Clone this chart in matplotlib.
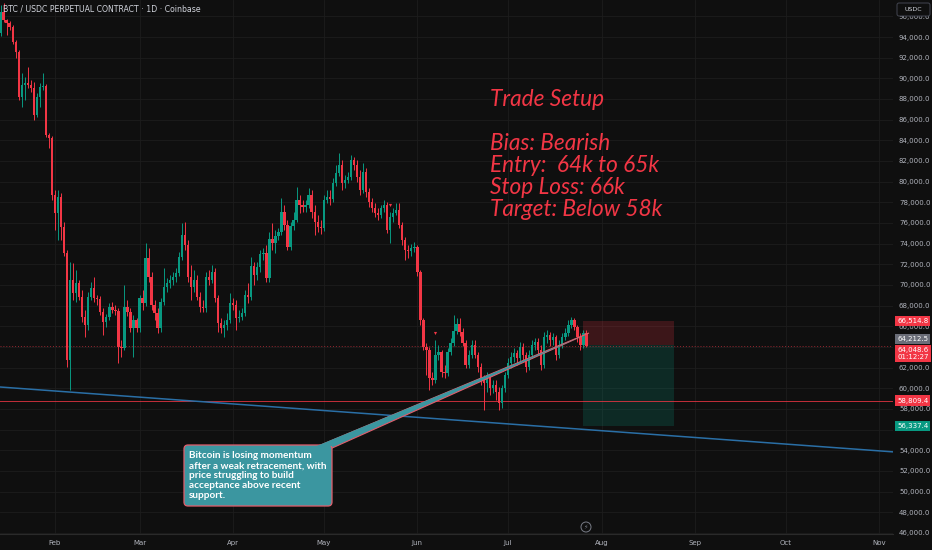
import numpy as np
import matplotlib
matplotlib.use('Agg')
import matplotlib.pyplot as plt
import matplotlib.transforms as mtransforms
from matplotlib.patches import FancyBboxPatch, Polygon, Rectangle, Circle

W, H = 932, 550
BG = '#0f0f0f'
UP = '#089981'
DOWN = '#f23645'
GRID = '#1d1d1d'
TXT = '#b2b5be'

# daily candles, prices in thousands USDC, day 0 = Feb 1
first_day = -18
first_open = 94.39
closes = [
    96.42, 95.65, 95.36, 94.97, 93.52, 92.55, 88.19, 89.35, 89.55, 89.35,
    89.06, 86.45, 88.19, 89.16, 89.26, 84.51, 84.22, 78.70,
    76.96, 78.51, 75.61, 73.09, 62.73, 70.48, 69.22, 70.19, 68.83, 66.89,
    66.12, 68.83, 69.70, 68.73, 68.64, 67.38, 66.41, 66.89, 67.86, 67.57,
    67.48, 63.99, 63.89, 67.86, 67.38, 65.83, 66.60, 65.83, 68.73, 68.25,
    72.61, 70.77, 68.06, 67.28, 65.83, 68.35, 69.80, 70.19, 70.48, 70.77,
    71.15, 72.70, 74.83, 73.87, 70.77, 69.80, 70.48, 68.83, 67.86, 67.77,
    70.77, 70.48, 71.25, 68.73, 66.31, 65.83, 66.12, 66.60, 68.25, 68.06,
    66.80, 66.89, 67.28, 69.03, 68.83, 71.83, 70.96, 71.74, 73.00, 73.09,
    70.67, 74.45, 74.06, 74.74, 75.12, 77.06, 75.80, 73.67, 75.70, 76.29,
    78.22, 77.74, 77.54, 77.74, 78.70, 77.06, 76.09, 75.61, 75.51, 78.22,
    78.51, 78.32, 79.87, 80.83, 81.61, 79.87, 80.16, 80.45, 82.09, 81.61,
    80.45, 79.19, 80.93, 78.99, 78.03, 77.45, 76.96, 76.77, 77.45, 77.74,
    75.32, 76.58, 76.96, 77.25, 75.80, 74.35, 73.38, 73.29, 73.57, 73.67,
    71.25, 66.60, 63.99, 63.70, 60.99, 60.80, 63.22, 63.51, 61.57, 61.47,
    63.51, 64.38, 65.54, 66.22, 65.44, 64.38, 62.25, 63.22, 64.19, 63.22,
    62.05, 60.80, 60.51, 60.99, 60.02, 60.31, 59.64, 58.57, 60.02, 61.28,
    62.44, 63.02, 63.41, 62.93, 63.99, 63.22, 62.05, 63.22, 64.19, 64.48,
    63.70, 62.25, 64.96, 65.15, 64.67, 64.96, 63.22, 64.19, 64.96, 65.35,
    66.12, 66.60, 65.93, 64.96, 64.19, 65.35, 64.05,
]
highs = [
    97.10, 97.29, 95.74, 95.55, 95.16, 93.71, 92.74, 90.51, 90.13, 91.09,
    89.84, 89.64, 88.58, 89.55, 90.51, 89.45, 84.71, 84.41,
    79.19, 79.19, 78.90, 76.09, 73.38, 72.22, 72.12, 71.45, 70.48, 69.51,
    67.57, 69.32, 70.29, 70.77, 69.03, 68.93, 67.77, 67.19, 68.25, 68.35,
    68.06, 67.77, 64.67, 69.99, 68.54, 67.77, 67.09, 66.80, 69.03, 69.51,
    74.06, 73.57, 71.25, 68.54, 67.77, 68.73, 71.64, 70.67, 70.96, 71.25,
    71.64, 73.19, 75.99, 76.09, 74.35, 71.93, 71.45, 70.96, 69.32, 68.54,
    71.25, 71.45, 71.93, 71.64, 69.03, 66.80, 66.60, 67.28, 69.22, 68.73,
    68.54, 67.57, 67.77, 69.51, 70.19, 72.70, 72.22, 72.22, 73.38, 73.57,
    73.87, 75.12, 75.99, 75.32, 75.51, 78.41, 77.74, 76.29, 76.09, 77.06,
    79.48, 78.70, 78.22, 78.22, 79.38, 79.19, 77.74, 76.77, 76.29, 78.70,
    79.19, 79.19, 80.35, 81.61, 82.77, 82.09, 80.64, 80.93, 82.58, 82.38,
    82.09, 81.12, 81.80, 81.32, 79.38, 78.41, 77.93, 77.45, 77.74, 78.22,
    78.03, 77.06, 77.45, 77.93, 77.93, 76.09, 74.64, 73.87, 73.96, 74.16,
    73.87, 71.45, 66.80, 64.38, 63.99, 61.57, 64.67, 64.19, 63.70, 62.25,
    63.89, 64.86, 67.09, 66.80, 66.80, 65.83, 64.67, 63.70, 64.67, 64.67,
    63.51, 62.44, 61.28, 61.57, 61.28, 60.80, 60.80, 60.12, 60.31, 61.57,
    62.93, 63.51, 63.89, 63.70, 64.48, 64.38, 63.51, 63.70, 64.67, 64.86,
    64.86, 64.19, 65.44, 65.64, 65.44, 65.35, 65.15, 64.67, 65.35, 65.83,
    66.60, 66.89, 66.80, 66.12, 65.35, 65.64, 65.64,
]
lows = [
    94.10, 95.45, 94.19, 94.68, 93.32, 91.97, 87.90, 87.22, 87.90, 89.06,
    88.68, 85.96, 86.26, 87.22, 88.87, 84.32, 83.26, 78.22,
    75.32, 74.35, 74.35, 72.80, 62.05, 59.83, 68.54, 68.35, 68.54, 66.41,
    64.96, 65.64, 68.54, 68.35, 68.06, 67.09, 65.15, 65.93, 66.60, 67.28,
    67.09, 62.44, 63.02, 63.70, 67.00, 65.44, 63.02, 65.44, 65.44, 67.57,
    67.96, 70.29, 67.57, 66.60, 65.35, 65.44, 68.06, 69.32, 69.70, 69.99,
    70.29, 70.87, 72.41, 73.38, 70.29, 68.54, 69.32, 68.54, 67.38, 67.38,
    67.38, 69.99, 70.19, 68.35, 65.44, 65.35, 64.96, 65.64, 66.31, 67.57,
    65.64, 66.41, 66.60, 67.00, 68.25, 68.54, 69.99, 70.48, 71.25, 72.41,
    70.29, 70.29, 73.38, 73.09, 74.35, 74.83, 75.32, 73.38, 73.38, 75.32,
    76.09, 76.96, 77.06, 77.06, 77.45, 76.48, 74.83, 75.12, 74.93, 75.22,
    77.93, 77.74, 78.03, 79.58, 80.54, 79.19, 79.38, 79.87, 80.16, 81.12,
    79.96, 78.70, 78.90, 78.51, 77.54, 77.06, 76.58, 76.29, 76.48, 77.06,
    75.03, 74.06, 76.09, 76.77, 75.51, 73.87, 72.41, 72.61, 72.80, 73.19,
    70.87, 66.12, 63.70, 61.28, 59.83, 60.31, 60.51, 62.73, 61.09, 60.99,
    61.18, 63.22, 64.09, 65.25, 65.06, 64.09, 61.96, 61.96, 62.93, 62.93,
    61.57, 60.31, 57.89, 59.64, 59.34, 59.54, 58.86, 57.89, 58.09, 59.64,
    60.99, 61.96, 62.54, 62.25, 62.54, 62.73, 61.57, 61.76, 62.93, 63.70,
    63.22, 61.76, 61.96, 64.38, 64.09, 64.19, 62.73, 62.93, 63.89, 64.67,
    65.06, 65.83, 65.64, 64.48, 63.70, 63.89, 63.99,
]

month_names = ['Feb', 'Mar', 'Apr', 'May', 'Jun', 'Jul', 'Aug', 'Sep', 'Oct', 'Nov']
month_days = [0, 28, 59, 89, 120, 150, 181, 212, 242, 273]

stop_price = 66514.8
entry_price = 64212.5
last_price = 64048.6
support_price = 58809.4
target_price = 56337.4
countdown = '01:12:27'
hidden_ticks = [56000, 64000]   # covered by the price tags on the scale

trend_days = [-18.2, 278.0]
trend_prices = [60120, 53830]
position_days = [174.8, 205.0]
event_days = [111, 126]

setup_lines = ['Trade Setup', '', 'Bias: Bearish', 'Entry:  64k to 65k',
               'Stop Loss: 66k', 'Target: Below 58k']
note_lines = ['Bitcoin is losing momentum', 'after a weak retracement, with',
              'price struggling to build', 'acceptance above recent', 'support.']

# ---- figure ----
fig = plt.figure(figsize=(W / 100, H / 100), dpi=100, facecolor=BG)
ax = fig.add_axes([0, 16 / H, 893 / W, 534 / H], facecolor=BG)
pix = mtransforms.Affine2D().scale(1, -1).translate(0, H)  # pixel coords, origin top-left

days = np.arange(first_day, first_day + len(closes))
c = np.array(closes) * 1000
o = np.concatenate([[first_open * 1000], c[:-1]])
hi = np.array(highs) * 1000
lo = np.array(lows) * 1000
cols = np.where(c >= o, UP, DOWN)

ax.vlines(days, lo, hi, colors=cols, lw=0.7, zorder=3)
ax.bar(days, np.maximum(np.abs(c - o), 100), bottom=np.minimum(o, c), width=0.78,
       color=cols, linewidth=0, zorder=4)

ev = [d - first_day for d in event_days]
ax.scatter(event_days, hi[ev] + 700, marker='v', s=5, color=DOWN, lw=0, zorder=5)

# position tool
w = position_days[1] - position_days[0]
ax.add_patch(Rectangle((position_days[0], entry_price), w, stop_price - entry_price,
                       fc=DOWN, alpha=0.2, lw=0, zorder=2))
ax.add_patch(Rectangle((position_days[0], target_price), w, entry_price - target_price,
                       fc=UP, alpha=0.2, lw=0, zorder=2))

ax.axhline(support_price, color=DOWN, lw=0.7, alpha=0.8, zorder=2)
ax.axhline(last_price, color=DOWN, lw=0.7, alpha=0.6, ls=(0, (1, 2)), zorder=2)
ax.plot(trend_days, trend_prices, color='#2a6fa6', lw=1.1, zorder=2)

ax.set_xlim(-18.2, 277.5)
ax.set_ylim(45890, 97582)
ax.set_xticks(month_days, month_names)
yt = np.arange(46000, 96001, 2000)
ax.set_yticks(yt, ['' if v in hidden_ticks else f'{v:,.1f}' for v in yt])
ax.yaxis.tick_right()
ax.tick_params(axis='y', length=0, pad=4.3, labelsize=5, labelcolor=TXT)
ax.tick_params(axis='x', length=0, pad=4, labelsize=5, labelcolor=TXT)
ax.grid(color=GRID, lw=0.6, zorder=0)
for s in ['top', 'right', 'left']:
    ax.spines[s].set_visible(False)
ax.spines['bottom'].set_color('#2a2a2a')

# price scale labels
blend = mtransforms.blended_transform_factory(ax.transAxes, ax.transData)
def price_tag(price, text, color, dy=0, ls=1.2):
    tr = blend + mtransforms.ScaledTranslation(0, dy / 100, fig.dpi_scale_trans)
    ax.text(1.0045, price, text, transform=tr, ha='left', va='center', fontsize=5,
            color='white', clip_on=False, zorder=20, linespacing=ls,
            bbox=dict(boxstyle='square,pad=0.3', fc=color, ec='none'))

price_tag(stop_price, f'{stop_price:,.1f}', DOWN)
price_tag(entry_price, f'{entry_price:,.1f}', '#6a6d78', dy=6)
price_tag(last_price, f'{last_price:,.1f}\n{countdown}', DOWN, dy=-7, ls=1.05)
price_tag(support_price, f'{support_price:,.1f}', DOWN)
price_tag(target_price, f'{target_price:,.1f}', UP)

# header
fig.text(3, 9, 'BTC / USDC PERPETUAL CONTRACT · 1D · Coinbase', transform=pix,
         fontsize=5.6, color='#d1d4dc', va='center', ha='left', zorder=30)
fig.patches.append(FancyBboxPatch((897, 3), 33, 13, boxstyle='round,pad=0,rounding_size=2',
                                  transform=pix, fc=BG, ec='#434651', lw=0.7))
fig.text(913.5, 9.5, 'USDC', transform=pix, fontsize=4.5, color='#d1d4dc',
         ha='center', va='center')

# trade setup text
for i, line in enumerate(setup_lines):
    fig.text(490, 100 + 22 * i, line, transform=pix, fontsize=16.3, color=DOWN,
             family='Lato', style='italic', ha='left', va='center')

# callout
TEAL = '#3b96a0'
EDGE = '#e25d6b'
fig.patches.append(Polygon([(311, 449), (330, 449), (589, 333)], closed=True,
                           transform=pix, fc=TEAL, ec=EDGE, lw=0.8, zorder=10))
fig.patches.append(FancyBboxPatch((184, 445), 148, 61, boxstyle='round,pad=0,rounding_size=4',
                                  transform=pix, fc=TEAL, ec=EDGE, lw=0.9, zorder=11))
fig.patches.append(Polygon([(313, 447.5), (328, 447.5), (585, 335)], closed=True,
                           transform=pix, fc=TEAL, ec='none', zorder=12))
for i, line in enumerate(note_lines):
    fig.text(189, 456 + 10 * i, line, transform=pix, fontsize=7.2, color='white',
             weight='bold', family='Lato', ha='left', va='center', zorder=13)

# replay icon near time axis
fig.patches.append(Circle((586, 527), 5, transform=pix, fc='none', ec='#787b86', lw=0.7))
fig.text(586, 527, '⚡', transform=pix, fontsize=4.5, color='#787b86', ha='center', va='center')

fig.savefig('out.png', dpi=100, facecolor=BG)
